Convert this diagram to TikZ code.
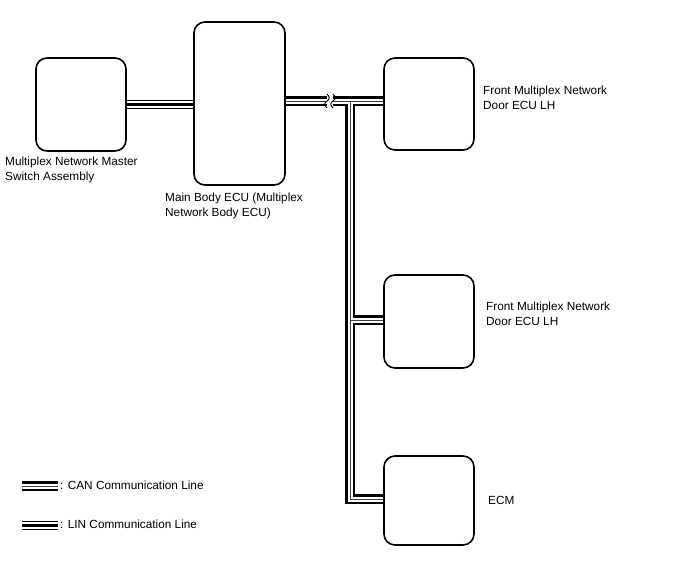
\documentclass[tikz,border=0pt]{standalone}
\usepackage{fontspec}
\setmainfont{Liberation Sans}
\begin{document}
\begin{tikzpicture}[x=1pt,y=-1pt,
  box/.style={draw, line width=1.6pt, rounded corners=11pt, inner sep=0pt},
  lbl/.style={anchor=base west, align=left, inner sep=0pt, font=\fontsize{11.8}{15}\selectfont},
  can/.style={line width=1pt, draw=black!75, line join=miter, line cap=butt,
    preaction={draw=black, line width=10pt},
    preaction={draw=white, line width=5pt}},
  lin/.style={line width=3pt, draw=black, line join=miter, line cap=butt,
    preaction={draw=black, line width=9pt},
    preaction={draw=white, line width=7pt}},
  brk/.style={draw, line width=0.9pt}]
\useasboundingbox (0,0) rectangle (688,560);

% boxes
\node[box, minimum width=90pt, minimum height=93pt] (b1) at (81,104.5) {};
\node[box, minimum width=91pt, minimum height=163pt] (b2) at (239.5,103.5) {};
\node[box, minimum width=90pt, minimum height=92pt] (b3) at (429,104) {};
\node[box, minimum width=90pt, minimum height=93pt] (b4) at (429,321.5) {};
\node[box, minimum width=90pt, minimum height=89pt] (b5) at (429,500.5) {};

% labels (base = baseline of the last line)
\node[lbl] (t1) at (5,180) {Multiplex Network Master\\Switch Assembly};
\node[lbl] (t2) at (165,216) {Main Body ECU (Multiplex\\Network Body ECU)};
\node[lbl] (t3) at (483,109) {Front Multiplex Network\\Door ECU LH};
\node[lbl] (t4) at (486,325) {Front Multiplex Network\\Door ECU LH};
\node[lbl] (t5) at (488,504) {ECM};

% LIN line
\draw[lin] (b1.east) -- (b1.east -| b2.west);

% CAN lines
\coordinate (brkL) at (327,101);
\coordinate (brkR) at (333,101);
\coordinate (tj) at (350,101);
\coordinate (mj) at (350,320);
\coordinate (bc) at (350,499);
\draw[can] (b2.east |- brkL) -- (brkL)
  (brkR) -- (brkR -| b3.west)
  (tj) -- (bc) -- (bc -| b5.west)
  (mj) -- (mj -| b4.west);

% break marks
\draw[brk] (327,94) .. controls (330,97) and (330,99) .. (327,101)
  .. controls (324,103) and (324,105) .. (327,108);
\draw[brk] (333,94) .. controls (336,97) and (336,99) .. (333,101)
  .. controls (330,103) and (330,105) .. (333,108);

% legend
\coordinate (lc1) at (22,486);
\coordinate (lc2) at (58,486);
\coordinate (ll1) at (22,525);
\coordinate (ll2) at (58,525);
\draw[can] (lc1) -- (lc2);
\draw[lin] (ll1) -- (ll2);
\node[lbl] (lt1) at (60,489) {: CAN Communication Line};
\node[lbl] (lt2) at (60,528) {: LIN Communication Line};
\end{tikzpicture}
\end{document}
